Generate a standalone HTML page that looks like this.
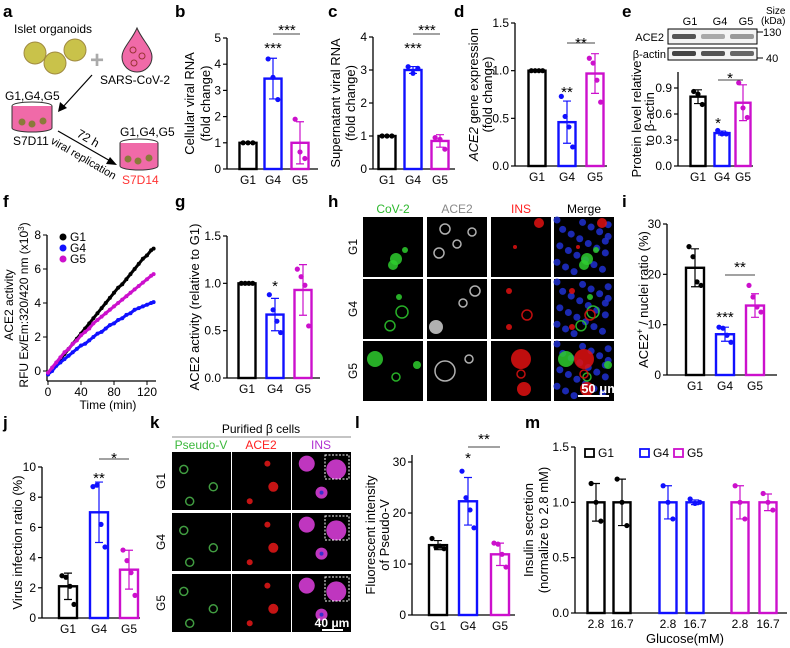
<!DOCTYPE html>
<html><head><meta charset="utf-8"><style>
html,body{margin:0;padding:0;background:#fff}
svg{display:block;font-family:"Liberation Sans",Arial,sans-serif}
</style></head><body>
<svg id="fig" width="790" height="648" viewBox="0 0 790 648" xmlns="http://www.w3.org/2000/svg">
<g font-weight="bold" font-size="17">
<text x="3" y="17">a</text><text x="175" y="17">b</text><text x="328" y="17">c</text><text x="454" y="17">d</text><text x="622" y="17">e</text>
<text x="3" y="207">f</text><text x="175" y="207">g</text><text x="328" y="207">h</text><text x="622" y="207">i</text>
<text x="3" y="428">j</text><text x="150" y="428">k</text><text x="355" y="428">l</text><text x="525" y="428">m</text>
</g>
<g font-size="12">
<text x="14" y="33">Islet organoids</text>
<circle cx="35" cy="53" r="11" fill="#c9c24a" stroke="#a08a40"/>
<circle cx="75" cy="50" r="11" fill="#c9c24a" stroke="#a08a40"/>
<circle cx="55" cy="63" r="11" fill="#c9c24a" stroke="#a08a40"/>
<text x="90" y="68" font-size="24" fill="#aaa" font-weight="bold">+</text>
<path d="M137 28 C 132 40, 122 48, 122 57 A 15 15 0 0 0 152 57 C 152 48, 142 40, 137 28 Z" fill="#f06aa8" stroke="#333"/>
<circle cx="133" cy="50" r="3" fill="none" stroke="#933"/><circle cx="142" cy="56" r="3" fill="none" stroke="#933"/><circle cx="134" cy="63" r="3" fill="none" stroke="#933"/>
<text x="100" y="84">SARS-CoV-2</text>
<line x1="92" y1="75" x2="62" y2="108" stroke="#000" stroke-width="1.2"/><path d="M58 112 L60 102 L67 108 Z" fill="#000"/>
<text x="5" y="100">G1,G4,G5</text>
<ellipse cx="32" cy="106" rx="20" ry="4" fill="#fff" stroke="#333"/>
<path d="M12 106 L12 128 A20 4 0 0 0 52 128 L52 106" fill="#f06aa8" stroke="#333"/>
<circle cx="22" cy="122" r="3.5" fill="#8a7a3a"/><circle cx="32" cy="124" r="3.5" fill="#8a7a3a"/><circle cx="43" cy="121" r="3.5" fill="#8a7a3a"/>
<text x="13" y="145">S7D11</text>
<line x1="58" y1="131" x2="112" y2="162" stroke="#000" stroke-width="1.2"/><path d="M117 165 L106 164 L110 157 Z" fill="#000"/>
<text transform="translate(76,136) rotate(30)" font-size="12">72 h</text>
<text transform="translate(50,143) rotate(30)" font-size="11">viral replication</text>
<text x="120" y="136">G1,G4,G5</text>
<ellipse cx="139" cy="143" rx="19" ry="4" fill="#fff" stroke="#333"/>
<path d="M120 143 L120 166 A19 4 0 0 0 158 166 L158 143" fill="#f06aa8" stroke="#333"/>
<circle cx="128" cy="159" r="3.5" fill="#8a7a3a"/><circle cx="138" cy="161" r="3.5" fill="#8a7a3a"/><circle cx="149" cy="158" r="3.5" fill="#8a7a3a"/>
<text x="122" y="184" fill="#ff3333">S7D14</text>
</g>
<g id="charts"></g>
<g id="blot" font-size="11">
<text x="690" y="25" text-anchor="middle">G1</text><text x="720" y="25" text-anchor="middle">G4</text><text x="746" y="25" text-anchor="middle">G5</text>
<text x="766" y="14" font-size="10">Size</text><text x="761" y="24" font-size="10">(kDa)</text>
<text x="664" y="41" text-anchor="end">ACE2</text><text x="666" y="58" text-anchor="end">β-actin</text>
<rect x="668" y="29" width="89" height="15" fill="#f4f4f4" stroke="#000"/>
<rect x="668" y="48" width="89" height="12" fill="#f4f4f4" stroke="#000"/>
<rect x="672" y="34" width="24" height="5" rx="2" fill="#555"/><rect x="701" y="34" width="24" height="5" rx="2" fill="#aaa"/><rect x="730" y="34" width="24" height="5" rx="2" fill="#999"/>
<rect x="672" y="51" width="24" height="5" rx="2" fill="#444"/><rect x="701" y="51" width="24" height="5" rx="2" fill="#555"/><rect x="730" y="51" width="24" height="5" rx="2" fill="#666"/>
<line x1="757" y1="32" x2="763" y2="32" stroke="#000"/><text x="763" y="36">130</text>
<line x1="757" y1="58" x2="763" y2="58" stroke="#000"/><text x="766" y="62">40</text>
</g>
<g id="micro"></g>
</svg>
<script>
// ---------- data ----------
const grpCats=['G1','G4','G5'];
const bMeans=[1.0,3.45,1.0];
const bPts=[[1,1,1],[4.2,3.5,2.65],[1.9,0.65,0.4]];
const bTicks=[0,1,2,3,4,5];
const cMeans=[1.0,3.0,0.85];
const cPts=[[1,1,1],[3.1,2.9,3.05],[0.95,0.9,0.6]];
const cTicks=[0,1,2,3,4];
const dMeans=[1.0,0.46,0.97];
const dPts=[[1,1,1,1],[0.73,0.52,0.41,0.2],[1.13,1.08,0.9,0.67]];
const dTicks=[0,0.5,1.0,1.5];
const eMeans=[0.8,0.38,0.73];
const ePts=[[0.86,0.83,0.71],[0.41,0.37,0.37],[0.96,0.67,0.56]];
const eTicks=[0,0.3,0.6,0.9];
const gMeans=[1.0,0.67,0.93];
const gPts=[[1,1,1,1],[0.88,0.72,0.6,0.48],[1.15,1.07,0.98,0.55]];
const gTicks=[0,0.5,1.0,1.5];
const iMeans=[21.3,8.1,13.8];
const iPts=[[25.5,23.5,18.5,17.8],[9.5,9.3,7.9,6.5],[17.8,15.5,13.5,12.5]];
const iTicks=[0,10,20,30];
const jMeans=[2.1,7.0,3.2];
const jPts=[[2.8,2.7,2.1,0.9],[8.7,8.8,6.2,4.7],[4.5,3.8,3.0,1.5]];
const jTicks=[0,2,4,6,8,10];
const lMeans=[13.7,22.3,11.9];
const lPts=[[15,13.3,13.5,13],[28.2,23,20.6,17.1],[14.1,13.9,11.9,9.4]];
const lTicks=[0,10,20,30];
const mCats=['2.8','16.7','2.8','16.7','2.8','16.7'];
const mMeans=[1.0,1.0,1.0,1.0,1.0,1.0];
const mPts=[[1.17,1.0,0.83],[1.21,1.0,0.79],[1.15,1.0,0.85],[1.03,0.99,1.0],[1.15,1.0,0.85],[1.08,1.0,0.93]];
const mTicks=[0,0.5,1.0,1.5];
const fTime=[0,5,10,15,20,25,30,35,40,45,50,55,60,65,70,75,80,85,90,95,100,105,110,115,120,125,128];
const fG1=[-0.2,0.1,0.4,0.7,1.0,1.3,1.6,1.9,2.2,2.5,2.8,3.1,3.4,3.7,4.0,4.3,4.6,4.9,5.1,5.4,5.7,6.0,6.3,6.6,6.8,7.1,7.2];
const fG4=[-0.2,0.0,0.3,0.5,0.7,0.9,1.1,1.3,1.5,1.6,1.8,2.0,2.2,2.3,2.5,2.7,2.8,3.0,3.1,3.3,3.4,3.6,3.7,3.8,3.9,4.0,4.05];
const fG5=[-0.1,0.2,0.5,0.8,1.1,1.3,1.6,1.8,2.1,2.3,2.5,2.8,3.0,3.2,3.4,3.6,3.8,4.0,4.2,4.4,4.6,4.8,5.0,5.2,5.4,5.6,5.7];
const fYTicks=[0,2,4,6,8];
const fXTicks=[0,40,80,120];

const NS='http://www.w3.org/2000/svg';
const COL=['#000','#1010ff','#cc10cc'];
const root=document.getElementById('charts');
function mk(tag,parent,attrs){const e=document.createElementNS(NS,tag);for(const k in attrs)e.setAttribute(k,attrs[k]);parent.appendChild(e);return e;}
function sd(a){const m=a.reduce((s,v)=>s+v,0)/a.length;return Math.sqrt(a.reduce((s,v)=>s+(v-m)*(v-m),0)/(a.length-1));}
function fmt(v,dec){return v.toFixed(dec);}

function barPanel(p){
  const g=mk('g',root,{});
  
  
  const ymax=p.ticks[p.ticks.length-1];
  const Y=v=>p.y0-v/ymax*(p.y0-p.yT);
  const X=i=>p.centers[i];
  const ax=mk('line',g,{x1:p.ax,y1:p.axTop||p.yT,x2:p.ax,y2:p.y0,stroke:'#000','stroke-width':1.3});
  
  
  const xa=mk('line',g,{x1:p.ax,y1:p.y0,x2:p.xEnd,y2:p.y0,stroke:'#000','stroke-width':1.3});
  
  
  p.ticks.forEach(t=>{
    const tk=mk('line',g,{x1:p.ax-4,y1:Y(t),x2:p.ax,y2:Y(t),stroke:'#000','stroke-width':1.2});
    
    
    const tl=mk('text',g,{x:p.ax-6,y:Y(t)+4,'text-anchor':'end','font-size':12});
    tl.textContent=fmt(t,p.dec);
    
    
  });
  p.means.forEach((m,i)=>{
    const c=COL[p.colorIdx?p.colorIdx[i]:i];
    const cx=X(i);
    const r=mk('rect',g,{x:cx-p.bw/2,y:Y(m),width:p.bw,height:p.y0-Y(m),fill:'#fff',stroke:c,'stroke-width':2.4});
    
    
    const s=sd(p.pts[i]);
    if(s>0.001){
      const eb=mk('path',g,{d:`M${cx} ${Y(m+s)}V${Y(m-s)}M${cx-4} ${Y(m+s)}H${cx+4}M${cx-4} ${Y(m-s)}H${cx+4}`,stroke:c,'stroke-width':1.2,fill:'none'});
      
      
    }
    const n=p.pts[i].length;
    p.pts[i].forEach((v,k)=>{
      const off=(k-(n-1)/2)*(p.bw/ (n+0.5));
      const d=mk('circle',g,{cx:cx+off,cy:Y(v),r:2.6,fill:c});
      
      
    });
    const cl=mk('text',g,{x:cx,y:p.y0+15,'text-anchor':'middle','font-size':12});
    cl.textContent=p.cats[i];
    
    
  });
  const my=(p.y0+(p.axTop||p.yT))/2;
  p.ylab.forEach((t,k)=>{
    const yl=mk('text',g,{x:p.ylx[k],y:my,'text-anchor':'middle','font-size':13,transform:`rotate(-90 ${p.ylx[k]} ${my})`});
    yl.innerHTML=t;
    
    
  });
  (p.stars||[]).forEach(s=>{
    const st=mk('text',g,{x:s[0],y:s[1],'text-anchor':'middle','font-size':15});
    st.textContent=s[2];
    
    
  });
  (p.brackets||[]).forEach(b=>{
    const bl=mk('line',g,{x1:b[0],y1:b[2],x2:b[1],y2:b[2],stroke:'#444','stroke-width':1});
    
    
  });
  return Y;
}

barPanel({name:'panel-b-cellular-viral-rna',cats:grpCats,means:bMeans,pts:bPts,ticks:bTicks,dec:0,ax:227,y0:169,yT:38,xEnd:318,centers:[248,273,300],bw:17,ylab:['Cellular viral RNA','(fold change)'],ylx:[194,210],stars:[[273,53,'***'],[287,35,'***']],brackets:[[273,300,34]]});
barPanel({name:'panel-c-supernatant-viral-rna',cats:grpCats,means:cMeans,pts:cPts,ticks:cTicks,dec:0,ax:373,y0:169,yT:37,xEnd:455,centers:[387,413,440],bw:17,ylab:['Supernatant viral RNA','(fold change)'],ylx:[340,355],stars:[[413,53,'***'],[427,35,'***']],brackets:[[413,440,34]]});
barPanel({name:'panel-d-ace2-gene-expression',cats:grpCats,means:dMeans,pts:dPts,ticks:dTicks,dec:1,ax:515,y0:166,yT:23,xEnd:607,centers:[537,567,595],bw:17,ylab:['<tspan font-style="italic">ACE2</tspan> gene expression','(fold change)'],ylx:[478,492],stars:[[567,97,'**'],[581,48,'**']],brackets:[[567,595,43]]});
barPanel({name:'panel-e-protein-level',cats:grpCats,means:eMeans,pts:ePts,ticks:eTicks,dec:1,ax:678,y0:166,yT:88,axTop:72,xEnd:753,centers:[698,722,743],bw:15,ylab:['Protein level relative','to β-actin'],ylx:[641,654],stars:[[718,128,'*'],[730,83,'*']],brackets:[[718,743,80]]});
barPanel({name:'panel-g-ace2-activity-relative',cats:grpCats,means:gMeans,pts:gPts,ticks:gTicks,dec:1,ax:227,y0:378,yT:236,xEnd:320,centers:[247,275,303],bw:17,ylab:['ACE2 activity (relative to G1)'],ylx:[199],stars:[[275,291,'*']]});
barPanel({name:'panel-i-ace2-nuclei-ratio',cats:grpCats,means:iMeans,pts:iPts,ticks:iTicks,dec:0,ax:667,y0:375,yT:224,xEnd:777,centers:[695,725,755],bw:18,ylab:['ACE2<tspan baseline-shift="super" font-size="9">+</tspan> / nuclei ratio (%)'],ylx:[648],stars:[[725,322,'***'],[740,272,'**']],brackets:[[725,755,275]]});
barPanel({name:'panel-j-virus-infection-ratio',cats:grpCats,means:jMeans,pts:jPts,ticks:jTicks,dec:0,ax:42,y0:618,yT:467,xEnd:140,centers:[68,99,129],bw:18,ylab:['Virus infection ratio (%)'],ylx:[22],stars:[[99,483,'**'],[114,463,'*']],brackets:[[99,129,459]]});
barPanel({name:'panel-l-pseudo-v-intensity',cats:grpCats,means:lMeans,pts:lPts,ticks:lTicks,dec:0,ax:412,y0:615,yT:462,axTop:455,xEnd:515,centers:[438,468,500],bw:18,ylab:['Fluorescent intensity','of Pseudo-V'],ylx:[375,389],stars:[[468,463,'*'],[484,444,'**']],brackets:[[468,500,447]]});
barPanel({name:'panel-m-insulin-secretion',cats:mCats,means:mMeans,pts:mPts,ticks:mTicks,dec:1,colorIdx:[0,0,1,1,2,2],ax:575,y0:613,yT:447,xEnd:787,centers:[596,622,668,695,740,768],bw:17,ylab:['Insulin secretion','(normalize to 2.8 mM)'],ylx:[533,548]});

(function(){
  const g=mk('g',root,{});
  
  
  [[585,'G1'],[640,'G4'],[674,'G5']].forEach((l,i)=>{
    const r=mk('rect',g,{x:l[0],y:449,width:9,height:8,fill:'#fff',stroke:COL[i],'stroke-width':1.8});
    
    
    const t=mk('text',g,{x:l[0]+13,y:457,'font-size':12});
    t.textContent=l[1];
    
    
  });
  const xt=mk('text',g,{x:685,y:643,'text-anchor':'middle','font-size':13});
  xt.textContent='Glucose(mM)';
  
  
})();

(function(){
  const g=mk('g',root,{});
  
  
  const X=t=>48+t/120*(147-48);
  const Y=v=>371-v/8*(371-235);
  const ya=mk('line',g,{x1:47,y1:235,x2:47,y2:381,stroke:'#000','stroke-width':1.3});
  
  
  const xa=mk('line',g,{x1:47,y1:381,x2:156,y2:381,stroke:'#000','stroke-width':1.3});
  
  
  fYTicks.forEach(t=>{
    const tk=mk('line',g,{x1:43,y1:Y(t),x2:47,y2:Y(t),stroke:'#000'});
    
    
    const tl=mk('text',g,{x:41,y:Y(t)+4,'text-anchor':'end','font-size':12});
    tl.textContent=t;
    
    
  });
  fXTicks.forEach(t=>{
    const tk=mk('line',g,{x1:X(t),y1:381,x2:X(t),y2:385,stroke:'#000'});
    
    
    const tl=mk('text',g,{x:X(t),y:396,'text-anchor':'middle','font-size':12});
    tl.textContent=t;
    
    
  });
  [[fG1,0,'G1'],[fG4,1,'G4'],[fG5,2,'G5']].forEach(s=>{
    const pl=mk('polyline',g,{points:fTime.map((t,i)=>X(t)+','+Y(s[0][i])).join(' '),fill:'none',stroke:COL[s[1]],'stroke-width':3});
    
    
    fTime.forEach((t,i)=>{
      const c=mk('circle',g,{cx:X(t),cy:Y(s[0][i]),r:2,fill:COL[s[1]]});
      
      
    });
  });
  ['G1','G4','G5'].forEach((n,i)=>{
    const c=mk('circle',g,{cx:63,cy:237+i*11,r:3.5,fill:COL[i]});
    
    
    const t=mk('text',g,{x:70,y:241+i*11,'font-size':12});
    t.textContent=n;
    
    
  });
  const xt=mk('text',g,{x:108,y:409,'text-anchor':'middle','font-size':12});
  xt.textContent='Time (min)';
  
  
  const y1=mk('text',g,{x:13,y:305,'text-anchor':'middle','font-size':12,transform:'rotate(-90 13 305)'});
  y1.textContent='ACE2 activity';
  
  
  const y2=mk('text',g,{x:28,y:305,'text-anchor':'middle','font-size':12,transform:'rotate(-90 28 305)'});
  y2.innerHTML='RFU Ex/Em:320/420 nm (x10<tspan baseline-shift="super" font-size="8">3</tspan>)';
  
  
})();

(function(){
  const m=document.getElementById('micro');
  function tile(x,y,w,h,blobs,name){
    const g=mk('g',m,{});
    
    
    mk('rect',g,{x:x,y:y,width:w,height:h,fill:'#000'});
    blobs.forEach(b=>{mk('circle',g,{cx:x+b[0]*w,cy:y+b[1]*h,r:b[2],fill:b[4]?b[3]:'none',stroke:b[3],'stroke-width':b[4]?0:1.5,opacity:0.85});});
  }
  const hx=[363,427,491,554], hy=[217,279,341], hw=60, hh=60;
  const G='#2ecc2e', W='#cfcfcf', R='#e01010', B='#2030d0';
  const hb=[
   [[[0.55,0.7,6,G,1],[0.7,0.55,3,G,1],[0.5,0.8,5,G,1]],[[0.3,0.2,5,W,0],[0.5,0.45,4,W,0],[0.2,0.6,5,W,0],[0.75,0.25,4,W,0]],[[0.8,0.1,5,R,1],[0.4,0.5,2,R,1]],'merge'],
   [[[0.6,0.3,3,G,1],[0.65,0.55,6,G,0],[0.45,0.78,5,G,0]],[[0.15,0.8,7,W,1],[0.8,0.2,5,W,0],[0.6,0.4,4,W,0]],[[0.3,0.2,3,R,1],[0.6,0.6,5,R,0],[0.3,0.8,3,R,1]],'merge'],
   [[[0.2,0.3,8,G,1],[0.55,0.6,4,G,0],[0.9,0.4,4,G,1]],[[0.3,0.5,10,W,0],[0.7,0.3,4,W,0]],[[0.5,0.3,10,R,1],[0.55,0.8,7,R,1],[0.5,0.55,4,R,0]],'merge']];
  hy.forEach((y,r)=>{
    for(let c=0;c<4;c++){
      let bl;
      if(c<3) bl=hb[r][c];
      else { bl=[]; for(let k=0;k<22;k++){bl.push([((k*37)%19)/19*0.9+0.05,((k*53)%23)/23*0.9+0.05,3.5,B,1]);} bl=bl.concat(hb[r][0],hb[r][2]); }
      tile(hx[c],y,hw,hh,bl,'panel-h-image-r'+(r+1)+'-c'+(c+1));
    }
  });
  const kx=[172,232,292], ky=[452,513,574], kw=59, kh=58;
  const Gk='#4cb84c', Rk='#e81818', P='#e040e0';
  ky.forEach((y,r)=>{
    tile(kx[0],y,kw,kh,[[0.2,0.3,4,Gk,0],[0.7,0.6,4,Gk,0],[0.3,0.85,4,Gk,0]],'panel-k-pseudo-v-'+(r+1));
    tile(kx[1],y,kw,kh,[[0.6,0.2,3,Rk,1],[0.7,0.6,5,Rk,1],[0.3,0.85,3,Rk,1]],'panel-k-ace2-'+(r+1));
    tile(kx[2],y,kw,kh,[[0.25,0.2,8,P,1],[0.75,0.3,10,P,1],[0.5,0.7,6,P,1],[0.5,0.7,2,B,1]],'panel-k-ins-'+(r+1));
    mk('rect',m,{x:kx[2]+33,y:y+3,width:24,height:24,fill:'none',stroke:'#fff','stroke-dasharray':'2 1.5'});
  });
})();
</script>
<div style="position:absolute;left:0;top:0;width:790px;height:648px;pointer-events:none">
<svg width="790" height="648" style="position:absolute;left:0;top:0">
<g font-family="Liberation Sans, Arial, sans-serif" font-size="12">
<text x="393" y="213" text-anchor="middle" fill="#2eb82e">CoV-2</text>
<text x="457" y="213" text-anchor="middle" fill="#888">ACE2</text>
<text x="521" y="213" text-anchor="middle" fill="#ff2020">INS</text>
<text x="584" y="213" text-anchor="middle">Merge</text>
<text x="357" y="247" text-anchor="middle" transform="rotate(-90 357 247)">G1</text>
<text x="357" y="309" text-anchor="middle" transform="rotate(-90 357 309)">G4</text>
<text x="357" y="371" text-anchor="middle" transform="rotate(-90 357 371)">G5</text>
<text x="600" y="393" text-anchor="middle" fill="#fff" font-weight="bold" font-size="13">50 μm</text>
<line x1="578" y1="396" x2="609" y2="396" stroke="#fff" stroke-width="2"/>
<text x="261" y="433" text-anchor="middle">Purified β cells</text>
<line x1="172" y1="437" x2="351" y2="437" stroke="#888" stroke-width="1"/>
<text x="201" y="449" text-anchor="middle" fill="#3cb83c">Pseudo-V</text>
<text x="261" y="449" text-anchor="middle" fill="#ff2020">ACE2</text>
<text x="321" y="449" text-anchor="middle" fill="#b030d0">INS</text>
<text x="165" y="481" text-anchor="middle" transform="rotate(-90 165 481)">G1</text>
<text x="165" y="542" text-anchor="middle" transform="rotate(-90 165 542)">G4</text>
<text x="165" y="603" text-anchor="middle" transform="rotate(-90 165 603)">G5</text>
<text x="332" y="627" text-anchor="middle" fill="#fff" font-weight="bold">40 μm</text>
<line x1="322" y1="630" x2="343" y2="630" stroke="#fff" stroke-width="2"/>
</g>
</svg>
</div>
</body></html>
